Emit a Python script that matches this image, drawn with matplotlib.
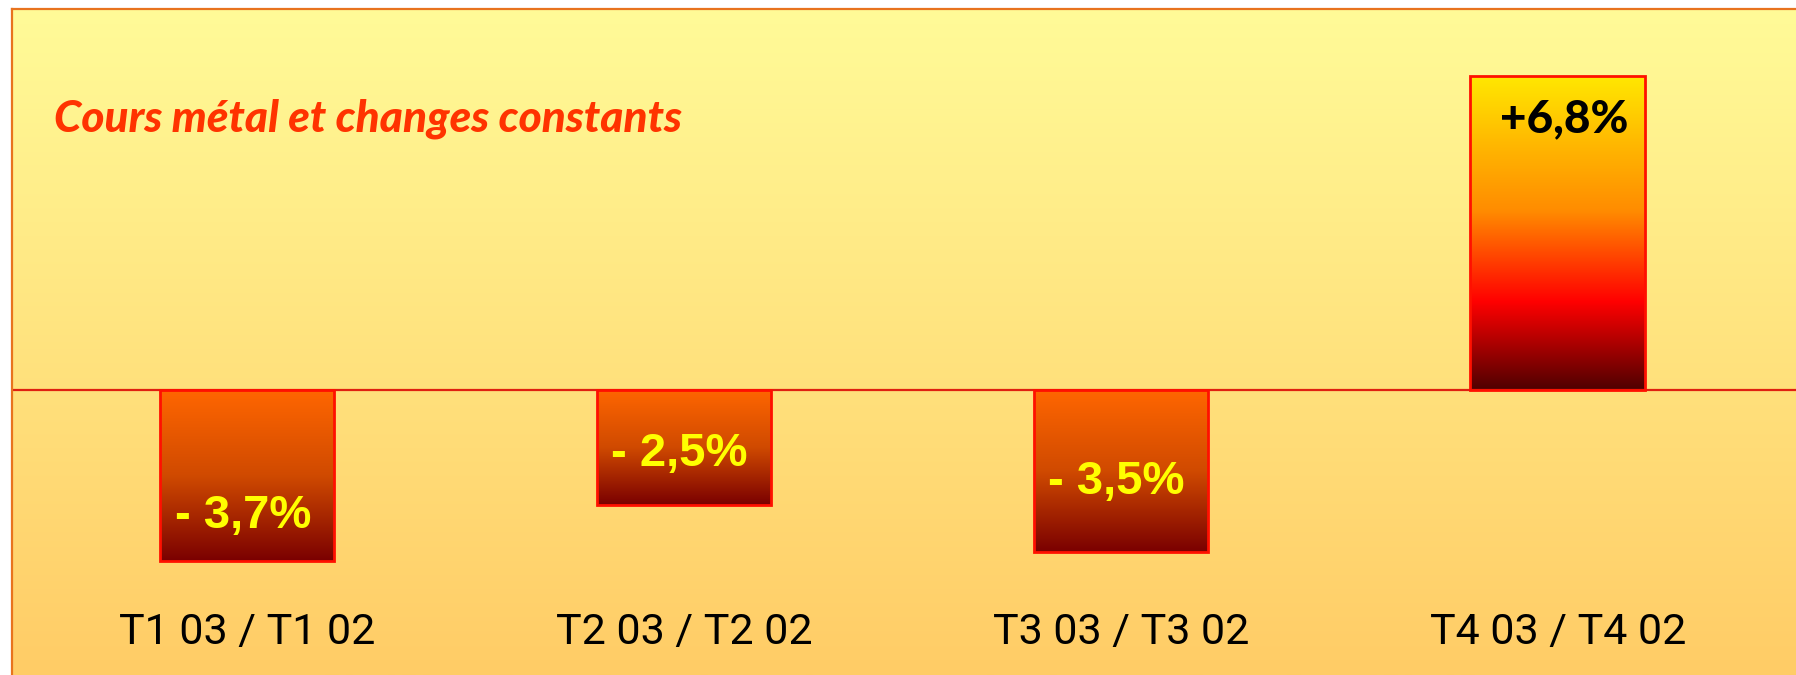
import numpy as np
import matplotlib
matplotlib.use('Agg')
import matplotlib.pyplot as plt
from matplotlib.colors import LinearSegmentedColormap

# Data
categories = ['T1 03 / T1 02', 'T2 03 / T2 02', 'T3 03 / T3 02', 'T4 03 / T4 02']
values = [-3.7, -2.5, -3.5, 6.8]
value_labels = ['- 3,7%', '- 2,5%', '- 3,5%', '+6,8%']
label_y = [-2.73, -1.39, -1.99, 5.86]
title = 'Cours métal et changes constants'

# Colours
bg_cmap = LinearSegmentedColormap.from_list('bg', ['#FFFB98', '#FFCC66'])
neg_cmap = LinearSegmentedColormap.from_list('neg', ['#FF6600', '#D04A00', '#7A0000'])
pos_cmap = LinearSegmentedColormap.from_list('pos', [
    (0.0, '#FFE800'), (0.24, '#FFB300'), (0.43, '#FF8C00'),
    (0.56, '#FF4D00'), (0.72, '#FF0000'), (1.0, '#500000')])

fig = plt.figure(figsize=(17.96, 6.75), dpi=100)
ax = fig.add_axes([12 / 1796, 0, 1 - 12 / 1796, (675 - 9) / 675])

x = np.arange(len(categories))
xmin, xmax = -0.538, 3.545
ymin, ymax = -6.17, 8.25
ax.set_xlim(xmin, xmax)
ax.set_ylim(ymin, ymax)

# background gradient
grad = np.linspace(0, 1, 256).reshape(-1, 1)
ax.imshow(grad, cmap=bg_cmap, extent=[xmin, xmax, ymin, ymax], aspect='auto',
          origin='upper', zorder=0)

bars = ax.bar(x, values, width=0.4, facecolor='none', edgecolor='#FF1000',
              linewidth=2, zorder=3)
for rect, v in zip(bars, values):
    x0 = rect.get_x()
    w = rect.get_width()
    cmap = pos_cmap if v > 0 else neg_cmap
    top, bot = max(v, 0), min(v, 0)
    im = ax.imshow(grad, cmap=cmap, extent=[x0, x0 + w, bot, top], aspect='auto',
                   origin='upper', zorder=2)
    im.set_clip_path(rect)

ax.axhline(0, color='#E02010', linewidth=1.6, zorder=2.5)

# value labels
for i, (lab, v, ly) in enumerate(zip(value_labels, values, label_y)):
    if v > 0:
        ax.text(x[i] + 0.015, ly, lab, ha='center', va='center', fontsize=33,
                fontweight='black', family='Lato', color='black', zorder=4)
    else:
        ax.text(x[i] - 0.01, ly, lab, ha='center', va='center', fontsize=34,
                fontweight='bold', family='Liberation Sans', color='#FFFF00', zorder=4)

# category labels
for i, c in enumerate(categories):
    ax.text(x[i], -5.24, c, ha='center', va='center', fontsize=31,
            family='Roboto', color='black', zorder=4)

ax.text(-0.442, 5.87, title, ha='left', va='center', fontsize=31.8,
        fontweight='black', fontstyle='italic', family='Lato', color='#FF3300', zorder=4)

ax.set_xticks([])
ax.set_yticks([])
for s in ['right', 'bottom']:
    ax.spines[s].set_visible(False)
for s in ['left', 'top']:
    ax.spines[s].set_color('#E8731E')
    ax.spines[s].set_linewidth(1.6)

fig.savefig('out.png', dpi=100)
